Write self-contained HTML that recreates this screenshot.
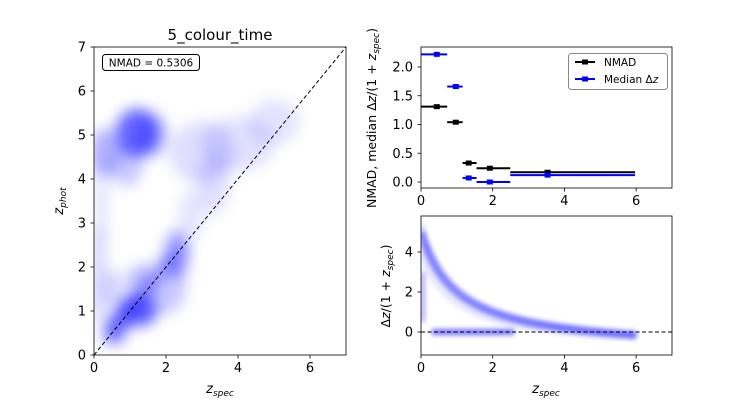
<!DOCTYPE html>
<html><head><meta charset="utf-8"><style>
body{margin:0;background:#fff;}
svg{display:block;font-family:"DejaVu Sans","Liberation Sans",sans-serif;}
</style></head><body>
<svg width="748" height="400" viewBox="0 0 748 400" xmlns="http://www.w3.org/2000/svg">
<defs>
<filter id="bl" filterUnits="userSpaceOnUse" x="0" y="0" width="748" height="400"><feGaussianBlur stdDeviation="7"/></filter>
<filter id="bl2" filterUnits="userSpaceOnUse" x="0" y="0" width="748" height="400"><feGaussianBlur stdDeviation="2.5"/></filter>
<clipPath id="cL"><rect x="94" y="47" width="252" height="308"/></clipPath>
<clipPath id="cB"><rect x="421" y="216" width="251" height="139"/></clipPath>
</defs>
<g id="left"></g>
<g id="tr"></g>
<g id="br"></g>
</svg>
<script>
const NS="http://www.w3.org/2000/svg";
const binLo=[0,0.73,1.16,1.55,2.49];
const binHi=[0.73,1.16,1.55,2.49,5.97];
const binCenter=[0.44,0.97,1.33,1.92,3.53];
const nmadVals=[1.31,1.04,0.33,0.24,0.17];
const medianVals=[2.22,1.66,0.07,0.0,0.12];
const xTicks=[0,2,4,6];
const yTicksL=[0,1,2,3,4,5,6,7];
const yTicksTR=[0.0,0.5,1.0,1.5,2.0];
const yTicksBR=[0,2,4];
const blobX=[1.2,1.2,0.6,0.3,0.9,1.6,2.3,2.0,3.0,4.0,5.0,0.15,0.2,0.1,0.5,3.3,2.7,1.3];
const blobY=[5.05,1.0,0.6,4.6,4.3,5.0,2.3,1.6,4.6,4.8,5.3,2.4,3.5,1.4,1.5,3.9,3.2,1.6];
const blobRX=[0.6,0.55,0.3,0.4,0.45,0.45,0.35,0.55,0.9,1.0,0.7,0.15,0.2,0.2,0.35,0.45,0.35,0.35];
const blobRY=[0.55,0.35,0.35,0.55,0.45,0.5,0.55,0.65,0.7,0.6,0.5,0.55,0.9,0.7,0.45,0.7,0.55,0.45];
const blobOp=[0.6,0.65,0.5,0.3,0.22,0.25,0.35,0.22,0.13,0.12,0.11,0.2,0.1,0.14,0.16,0.12,0.1,0.3];

function el(parent,tag,attrs,text){const e=document.createElementNS(NS,tag);for(const k in attrs)e.setAttribute(k,attrs[k]);if(text!==undefined)e.textContent=text;parent.appendChild(e);return e;}

const L={x0:94,x1:346,y0:355,y1:47,xmin:0,xmax:7,ymin:0,ymax:7};
const lx=v=>L.x0+(v-L.xmin)/(L.xmax-L.xmin)*(L.x1-L.x0);
const ly=v=>L.y0-(v-L.ymin)/(L.ymax-L.ymin)*(L.y0-L.y1);
const gl=document.getElementById('left');
const gs=el(gl,'g',{'clip-path':'url(#cL)'});


const gsf=el(gs,'g',{filter:'url(#bl)'});
for(let i=0;i<blobX.length;i++){
 const e=el(gsf,'ellipse',{cx:lx(blobX[i]),cy:ly(blobY[i]),rx:blobRX[i]*36,ry:blobRY[i]*44,fill:'#0000ff','fill-opacity':blobOp[i]});
 
 
}
const band=el(gsf,'line',{x1:lx(0.3),y1:ly(0.3),x2:lx(2.5),y2:ly(2.5),stroke:'#0000ff','stroke-opacity':0.35,'stroke-width':10});


const one=el(gl,'line',{x1:lx(0),y1:ly(0),x2:lx(7),y2:ly(7),stroke:'#000','stroke-width':1,'stroke-dasharray':'4,2.5'});


function frame(g,x0,y0,x1,y1){el(g,'rect',{x:x0,y:y1,width:x1-x0,height:y0-y1,fill:'none',stroke:'#000','stroke-width':0.8});}
frame(gl,L.x0,L.y0,L.x1,L.y1);
for(const t of xTicks){el(gl,'line',{x1:lx(t),x2:lx(t),y1:355,y2:358.5,stroke:'#000','stroke-width':0.8});el(gl,'text',{x:lx(t),y:372,'font-size':13,'text-anchor':'middle'},t);}
for(const t of yTicksL){el(gl,'line',{x1:90.5,x2:94,y1:ly(t),y2:ly(t),stroke:'#000','stroke-width':0.8});el(gl,'text',{x:86,y:ly(t)+4.5,'font-size':13,'text-anchor':'end'},t);}
el(gl,'text',{x:220,y:40,'font-size':15,'text-anchor':'middle'},'5_colour_time');
const xl=el(gl,'text',{x:220,y:393,'font-size':13,'text-anchor':'middle','font-style':'italic'});xl.innerHTML='z<tspan font-size="9" dy="3">spec</tspan>';

const yl=el(gl,'text',{transform:'translate(63,201) rotate(-90)','font-size':13,'text-anchor':'middle','font-style':'italic'});yl.innerHTML='z<tspan font-size="9" dy="3">phot</tspan>';

const nb=el(gl,'rect',{x:102.5,y:54.5,width:97,height:16,rx:3,fill:'#fff',stroke:'#000','stroke-width':1});

el(gl,'text',{x:151,y:66.5,'font-size':10.5,'text-anchor':'middle'},'NMAD = 0.5306');

const T={x0:421,x1:672,y0:188,y1:47};
const tx=v=>421+(v/7)*251;
const ty=v=>182-v*57.5;
const gt=document.getElementById('tr');
frame(gt,T.x0,T.y0,T.x1,T.y1);
for(let i=0;i<binCenter.length;i++){
 const a=el(gt,'line',{x1:tx(binLo[i]),x2:tx(binHi[i]),y1:ty(nmadVals[i]),y2:ty(nmadVals[i]),stroke:'#000','stroke-width':2});
 
 
 const b=el(gt,'rect',{x:tx(binCenter[i])-3,y:ty(nmadVals[i])-2.5,width:6,height:5,fill:'#000'});
 
 
 const c=el(gt,'line',{x1:tx(binLo[i]),x2:tx(binHi[i]),y1:ty(medianVals[i]),y2:ty(medianVals[i]),stroke:'#0000ff','stroke-width':2});
 
 
 const d=el(gt,'rect',{x:tx(binCenter[i])-3,y:ty(medianVals[i])-2.5,width:6,height:5,fill:'#0000ff'});
 
 
}
for(const t of xTicks){el(gt,'line',{x1:tx(t),x2:tx(t),y1:188,y2:191.5,stroke:'#000','stroke-width':0.8});el(gt,'text',{x:tx(t),y:205,'font-size':13,'text-anchor':'middle'},t);}
for(const t of yTicksTR){el(gt,'line',{x1:417.5,x2:421,y1:ty(t),y2:ty(t),stroke:'#000','stroke-width':0.8});el(gt,'text',{x:413,y:ty(t)+4.5,'font-size':13,'text-anchor':'end'},t.toFixed(1));}
const yt=el(gt,'text',{transform:'translate(376,118) rotate(-90)','font-size':12.5,'text-anchor':'middle'});yt.innerHTML='NMAD, median Δ<tspan font-style="italic">z</tspan>/(1 + <tspan font-style="italic">z</tspan><tspan font-size="9" dy="3" font-style="italic">spec</tspan><tspan dy="-3">)</tspan>';

const lg=el(gt,'g',{});
el(lg,'rect',{x:568.5,y:53.5,width:99,height:36,rx:3,fill:'#fff',stroke:'#888','stroke-width':1});
el(lg,'line',{x1:575,x2:595,y1:62,y2:62,stroke:'#000','stroke-width':2});el(lg,'rect',{x:582,y:59.5,width:6,height:5,fill:'#000'});
el(lg,'text',{x:604,y:66,'font-size':10.5},'NMAD');
el(lg,'line',{x1:575,x2:595,y1:79,y2:79,stroke:'#0000ff','stroke-width':2});el(lg,'rect',{x:582,y:76.5,width:6,height:5,fill:'#0000ff'});
const lt=el(lg,'text',{x:604,y:83,'font-size':10.5});lt.innerHTML='Median Δ<tspan font-style="italic">z</tspan>';

const bx=v=>421+(v/7)*251;
const by=v=>332-v*20;
const gb=document.getElementById('br');
const gbd=el(gb,'g',{'clip-path':'url(#cB)'});


function curve(zp,w,op){let d='';for(let z=0;z<=6;z+=0.1){const v=(zp-z)/(1+z);d+=(d?'L':'M')+bx(z)+','+by(v);}el(gbd,'path',{d:d,fill:'none',stroke:'#0000ff','stroke-opacity':op,'stroke-width':w,filter:'url(#bl2)'});}
curve(5.0,7,0.45);curve(5.4,4,0.2);curve(4.5,4,0.2);curve(3.8,3,0.15);
el(gbd,'line',{x1:bx(0.3),x2:bx(2.6),y1:by(0),y2:by(0),stroke:'#0000ff','stroke-opacity':0.55,'stroke-width':6,filter:'url(#bl2)'});
el(gbd,'line',{x1:bx(0.05),x2:bx(0.05),y1:by(3),y2:by(0.5),stroke:'#0000ff','stroke-opacity':0.3,'stroke-width':5,filter:'url(#bl2)'});
el(gb,'line',{x1:421,x2:672,y1:by(0),y2:by(0),stroke:'#000','stroke-width':1,'stroke-dasharray':'4,2.5'});
frame(gb,421,355,672,216);
for(const t of xTicks){el(gb,'line',{x1:bx(t),x2:bx(t),y1:355,y2:358.5,stroke:'#000','stroke-width':0.8});el(gb,'text',{x:bx(t),y:372,'font-size':13,'text-anchor':'middle'},t);}
for(const t of yTicksBR){el(gb,'line',{x1:417.5,x2:421,y1:by(t),y2:by(t),stroke:'#000','stroke-width':0.8});el(gb,'text',{x:413,y:by(t)+4.5,'font-size':13,'text-anchor':'end'},t);}
const bxl=el(gb,'text',{x:546,y:393,'font-size':13,'text-anchor':'middle','font-style':'italic'});bxl.innerHTML='z<tspan font-size="9" dy="3">spec</tspan>';

const byl=el(gb,'text',{transform:'translate(390,286) rotate(-90)','font-size':12.5,'text-anchor':'middle'});byl.innerHTML='Δ<tspan font-style="italic">z</tspan>/(1 + <tspan font-style="italic">z</tspan><tspan font-size="9" dy="3" font-style="italic">spec</tspan><tspan dy="-3">)</tspan>';

</script>
</body></html>
